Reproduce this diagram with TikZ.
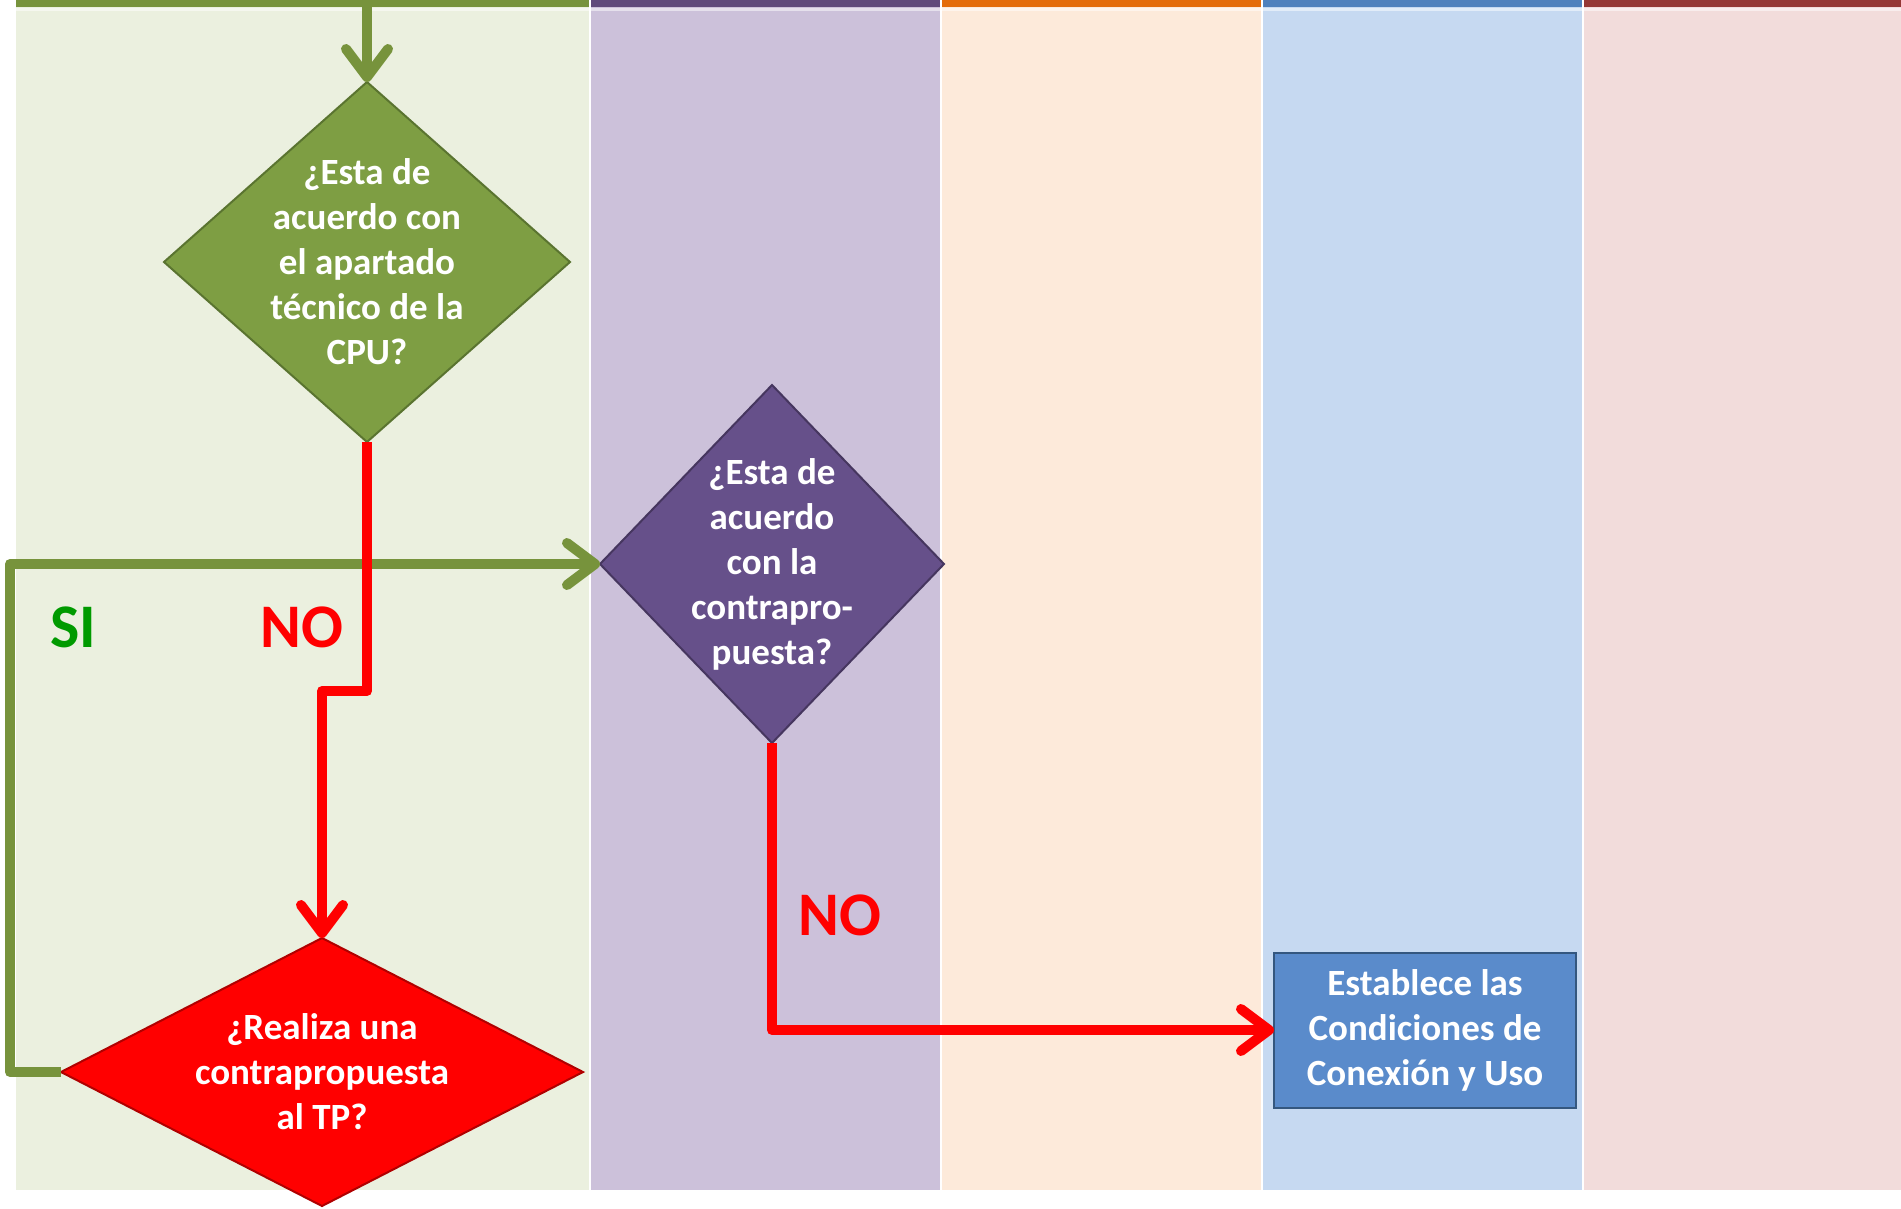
\documentclass[tikz,border=0pt]{standalone}
\usepackage{fontspec}
\setmainfont{Carlito}
\usetikzlibrary{shapes.geometric,arrows.meta}
\definecolor{laneA}{HTML}{EBF0DF}
\definecolor{laneB}{HTML}{CCC1DA}
\definecolor{laneC}{HTML}{FDEADA}
\definecolor{laneD}{HTML}{C6D9F1}
\definecolor{laneE}{HTML}{F2DCDB}
\definecolor{barA}{HTML}{77933C}
\definecolor{barB}{HTML}{604A7B}
\definecolor{barC}{HTML}{E46C0A}
\definecolor{barD}{HTML}{4F81BD}
\definecolor{barE}{HTML}{953735}
\definecolor{qgreen}{HTML}{7E9E43}
\definecolor{qgreendk}{HTML}{5A7430}
\definecolor{qpurple}{HTML}{66508A}
\definecolor{qpurpledk}{HTML}{46365F}
\definecolor{qred}{HTML}{FF0000}
\definecolor{qreddk}{HTML}{B00000}
\definecolor{qblue}{HTML}{5A8BCB}
\definecolor{qbluedk}{HTML}{34577F}
\definecolor{sigreen}{HTML}{009A00}

\begin{document}
\begin{tikzpicture}[x=1pt, y=-1pt, every node/.style={inner sep=0pt, outer sep=0pt}]
\tikzset{qtext/.style={text=white, font=\bfseries\fontsize{37}{45}\selectfont, align=center}}
\tikzset{diam/.style={diamond, line width=2pt}}
\tikzset{tag/.style={font=\bfseries\fontsize{62}{62}\selectfont}}
\tikzset{garrow/.style={draw=barA, line width=10pt, line join=round, -{Straight Barb[round, length=28pt, width=42pt]}}}
\tikzset{rarrow/.style={draw=qred, line width=10pt, line join=round, -{Straight Barb[round, length=28pt, width=42pt]}}}
\useasboundingbox (0,0) rectangle (1901,1208);
\fill[white] (0,0) rectangle (1901,1208);
\fill[laneA] (16,0) rectangle (589,1190);
\fill[laneB] (591,0) rectangle (940,1190);
\fill[laneC] (942,0) rectangle (1261,1190);
\fill[laneD] (1263,0) rectangle (1582,1190);
\fill[laneE] (1584,0) rectangle (1901,1190);
\fill[barA] (16,0) rectangle (589,7);
\fill[barB] (591,0) rectangle (940,7);
\fill[barC] (942,0) rectangle (1261,7);
\fill[barD] (1263,0) rectangle (1582,7);
\fill[barE] (1584,0) rectangle (1901,7);
\fill[white, opacity=0.5] (16,8) rectangle (1901,11);
\node[diam, fill=qgreen, draw=qgreendk, minimum width=406pt, minimum height=360pt, label={[qtext]center:{¿Esta de\\acuerdo con\\el apartado\\técnico de la\\CPU?}}] (q1) at (367,262) {};
\node[diam, fill=qpurple, draw=qpurpledk, minimum width=344pt, minimum height=358pt, label={[qtext]center:{¿Esta de\\acuerdo\\con la\\contrapro-\\puesta?}}] (q2) at (772,564) {};
\node[diam, fill=qred, draw=qreddk, minimum width=522pt, minimum height=268pt, label={[qtext]center:{¿Realiza una\\contrapropuesta\\al TP?}}] (q3) at (322,1072) {};
\node[qtext, rectangle, fill=qblue, draw=qbluedk, line width=2pt, minimum width=302pt, minimum height=155pt] (cond) at (1425,1030) {Establece las\\Condiciones de\\Conexión y Uso};
\node[tag, text=sigreen] (si) at (73,627) {SI};
\node[tag, text=qred] (no1) at (302,627) {NO};
\node[tag, text=qred] (no2) at (840,915) {NO};
\coordinate (top) at (367,0);
\coordinate (c1) at (10,1072);
\coordinate (c2) at (322,691);
\draw[garrow] (top) -- (q1.north);
\draw[garrow] (q3.west) -- (c1) |- (q2.west);
\draw[rarrow] (q1.south) |- (c2) -- (q3.north);
\draw[rarrow] (q2.south) |- (cond.west);
\end{tikzpicture}
\end{document}
